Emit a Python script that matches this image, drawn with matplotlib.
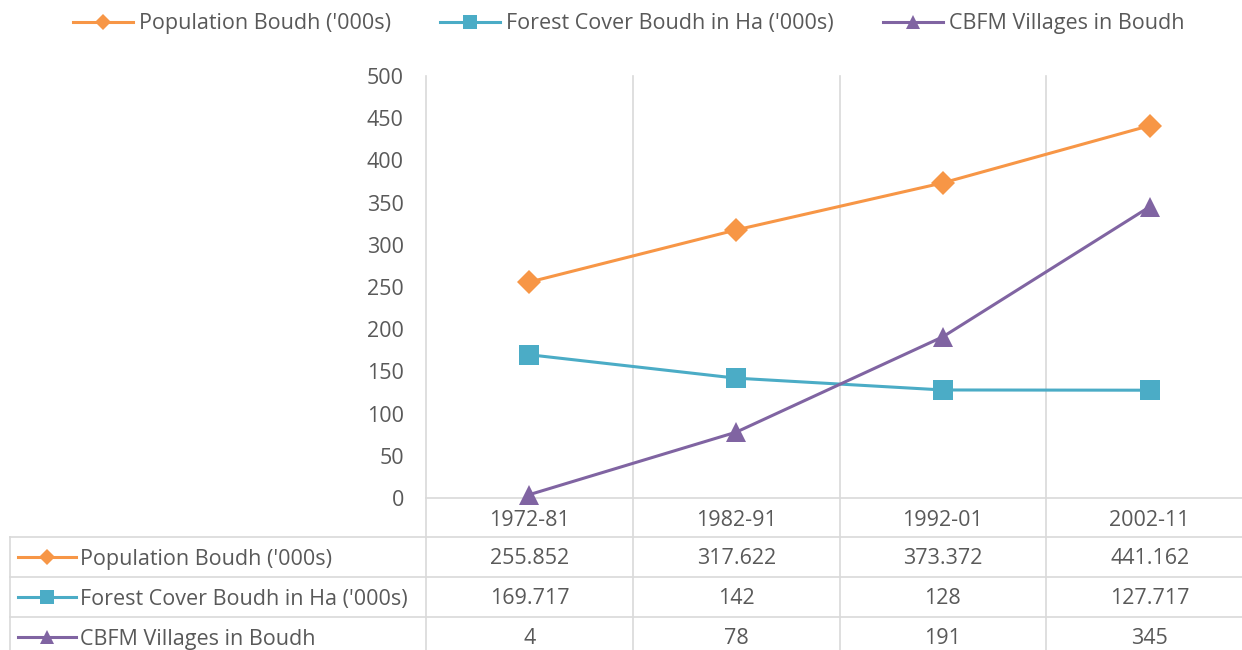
import matplotlib
matplotlib.use("Agg")
import matplotlib.pyplot as plt
from matplotlib.lines import Line2D

# Data
periods = ["1972-81", "1982-91", "1992-01", "2002-11"]
population = [255.852, 317.622, 373.372, 441.162]
forest = [169.717, 142, 128, 127.717]
cbfm = [4, 78, 191, 345]
population_labels = ["255.852", "317.622", "373.372", "441.162"]
forest_labels = ["169.717", "142", "128", "127.717"]
cbfm_labels = ["4", "78", "191", "345"]

series_names = ["Population Boudh ('000s)",
                "Forest Cover Boudh in Ha ('000s)",
                "CBFM Villages in Boudh"]
y_ticks = [0, 50, 100, 150, 200, 250, 300, 350, 400, 450, 500]

colors = ["#F79646", "#4BACC6", "#8064A2"]
markers = ["D", "s", "^"]
msizes = [12.5, 14.5, 15]
text_color = "#595959"
grid_color = "#D9D9D9"

plt.rcParams["font.family"] = ["Open Sans", "DejaVu Sans"]

W, H = 1242, 650
fig = plt.figure(figsize=(W / 100, H / 100), dpi=100)

# Plot area in pixel geometry
left_px, right_px, top_px, bottom_px = 426, 1253, 76, 498
ax = fig.add_axes([left_px / W, (H - bottom_px) / H,
                   (right_px - left_px) / W, (bottom_px - top_px) / H])
ax.patch.set_visible(False)

x = list(range(len(periods)))
all_series = [population, forest, cbfm]
for vals, c, m, ms in zip(all_series, colors, markers, msizes):
    ax.plot(x, vals, color=c, lw=2.2, marker=m, markersize=ms,
            markeredgewidth=0, clip_on=False, zorder=3)

fs = 15.5
ax.set_xlim(-0.5, len(periods) - 0.5)
ax.set_ylim(0, 500)
ax.set_yticks(y_ticks)
ax.set_yticklabels([str(t) for t in y_ticks])
ax.tick_params(axis="y", length=0, pad=16, labelsize=fs, labelcolor=text_color)
ax.set_xticks([])
for s in ["top", "right", "left"]:
    ax.spines[s].set_visible(False)
ax.spines["bottom"].set_color(grid_color)
ax.spines["bottom"].set_linewidth(1.2)

# Overlay in pixel coordinates for the data table and separators
ov = fig.add_axes([0, 0, 1, 1], zorder=-1)
ov.set_xlim(0, W)
ov.set_ylim(H, 0)
ov.axis("off")

col_w = (right_px - left_px) / len(periods)
table_left = 10
row_h = 40
header_bottom = bottom_px + 39
table_bottom = header_bottom + row_h * 3

# vertical separators
for i in range(len(periods) + 1):
    xp = left_px + i * col_w
    ov.plot([xp, xp], [top_px, table_bottom], color=grid_color, lw=1.2)
ov.plot([table_left, table_left], [header_bottom, table_bottom], color=grid_color, lw=1.2)
# horizontal row lines
for r in range(3):
    yp = header_bottom + r * row_h
    ov.plot([table_left, right_px], [yp, yp], color=grid_color, lw=1.2)

# header labels
for i, p in enumerate(periods):
    ov.text(left_px + (i + 0.5) * col_w, bottom_px + 22, p, ha="center", va="center",
            fontsize=fs, color=text_color)

# rows
row_labels = [population_labels, forest_labels, cbfm_labels]
leg_ms = [8, 10, 10]
for r, (name, labels) in enumerate(zip(series_names, row_labels)):
    yc = header_bottom + r * row_h + row_h / 2
    ov.plot([18, 76], [yc, yc], color=colors[r], lw=2.2)
    ov.plot([47], [yc], color=colors[r], marker=markers[r], markersize=leg_ms[r],
            markeredgewidth=0)
    ov.text(80, yc + 2, name, ha="left", va="center", fontsize=fs, color=text_color)
    for i, lab in enumerate(labels):
        ov.text(left_px + (i + 0.5) * col_w, yc + 2, lab, ha="center", va="center",
                fontsize=fs, color=text_color)

# top legend
handles = [Line2D([0], [0], color=c, lw=2.2, marker=m, markersize=ms, markeredgewidth=0)
           for c, m, ms in zip(colors, markers, leg_ms)]
fig.legend(handles, series_names, loc="center", bbox_to_anchor=(0.506, 1 - 24 / H),
           ncol=3, frameon=False, fontsize=fs, labelcolor=text_color,
           handlelength=2.8, handletextpad=0.25, columnspacing=2.3)

fig.savefig("out.png", dpi=100)
